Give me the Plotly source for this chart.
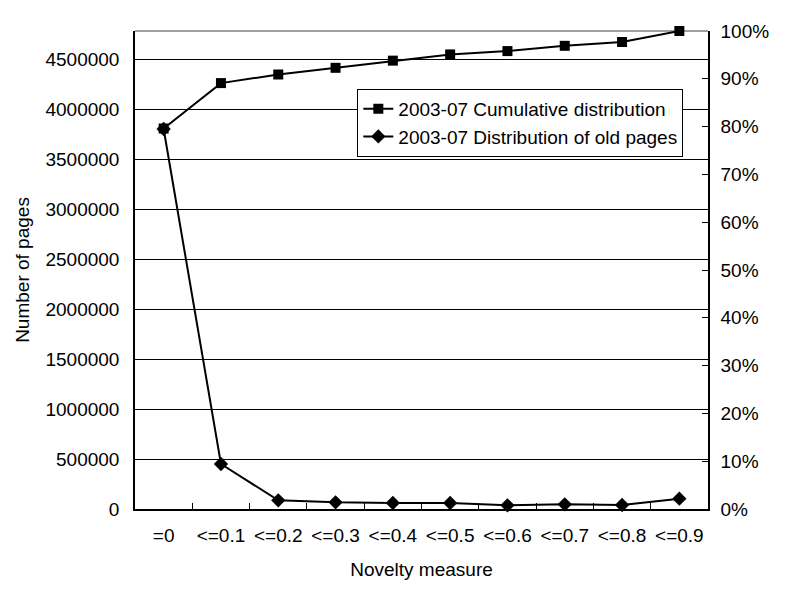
import plotly.graph_objects as go

categories = ["=0", "<=0.1", "<=0.2", "<=0.3", "<=0.4", "<=0.5", "<=0.6", "<=0.7", "<=0.8", "<=0.9"]
old_pages = [3800000, 450000, 87000, 67000, 60000, 60000, 37000, 47000, 40000, 103000]
cumulative_pct = [0.796, 0.891, 0.909, 0.923, 0.938, 0.951, 0.958, 0.969, 0.977, 1.0]
left_ticks = [0, 500000, 1000000, 1500000, 2000000, 2500000, 3000000, 3500000, 4000000, 4500000]
left_max = 4780000

font_family = "Liberation Sans, Arial, sans-serif"
fs = 19

fig = go.Figure()
fig.add_trace(go.Scatter(
    x=categories, y=cumulative_pct, yaxis="y2",
    name="2003-07 Cumulative distribution",
    mode="lines+markers", cliponaxis=False,
    line=dict(color="black", width=2),
    marker=dict(symbol="square", size=10, color="black"),
))
fig.add_trace(go.Scatter(
    x=categories, y=old_pages, yaxis="y",
    name="2003-07 Distribution of old pages",
    mode="lines+markers", cliponaxis=False,
    line=dict(color="black", width=2),
    marker=dict(symbol="diamond", size=11, color="black"),
))

fig.update_layout(
    width=784, height=585,
    margin=dict(l=127, r=84, t=23, b=84),
    paper_bgcolor="white", plot_bgcolor="white",
    font=dict(family=font_family, size=fs, color="black"),
    showlegend=True,
    legend=dict(
        x=0.388, y=0.879, xanchor="left", yanchor="top",
        bgcolor="white", bordercolor="black", borderwidth=1,
        font=dict(size=fs), tracegroupgap=0, itemwidth=30,
    ),
    xaxis=dict(
        type="category", range=[-0.5, 9.5], automargin=False,
        tickson="boundaries", ticks="inside", ticklen=6, tickcolor="black",
        showline=True, linecolor="black", linewidth=1.5,
        showgrid=False, zeroline=False, tickangle=0,
        ticklabelstandoff=8,
        title=dict(text="Novelty measure", font=dict(size=fs), standoff=18),
        tickfont=dict(size=fs),
    ),
    yaxis=dict(
        range=[0, left_max], tickvals=left_ticks, automargin=False,
        ticktext=[str(v) for v in left_ticks],
        showgrid=True, gridcolor="black", gridwidth=1,
        showline=True, linecolor="black", linewidth=1.5,
        ticks="", zeroline=False,
        ticklabelstandoff=10,
        title=dict(text="Number of pages", font=dict(size=fs), standoff=11),
        tickfont=dict(size=fs),
    ),
    yaxis2=dict(
        overlaying="y", side="right", range=[0, 1], automargin=False,
        tickvals=[i / 10 for i in range(11)], tickformat=".0%",
        showgrid=False, zeroline=False,
        showline=True, linecolor="black", linewidth=1.5,
        ticks="inside", ticklen=6, tickcolor="black",
        ticklabelstandoff=7,
        tickfont=dict(size=fs),
    ),
)

fig.add_shape(type="line", xref="paper", yref="paper", x0=0, x1=1, y0=1, y1=1,
              line=dict(color="#808080", width=1.5), layer="below")

fig.write_html("out.html")
